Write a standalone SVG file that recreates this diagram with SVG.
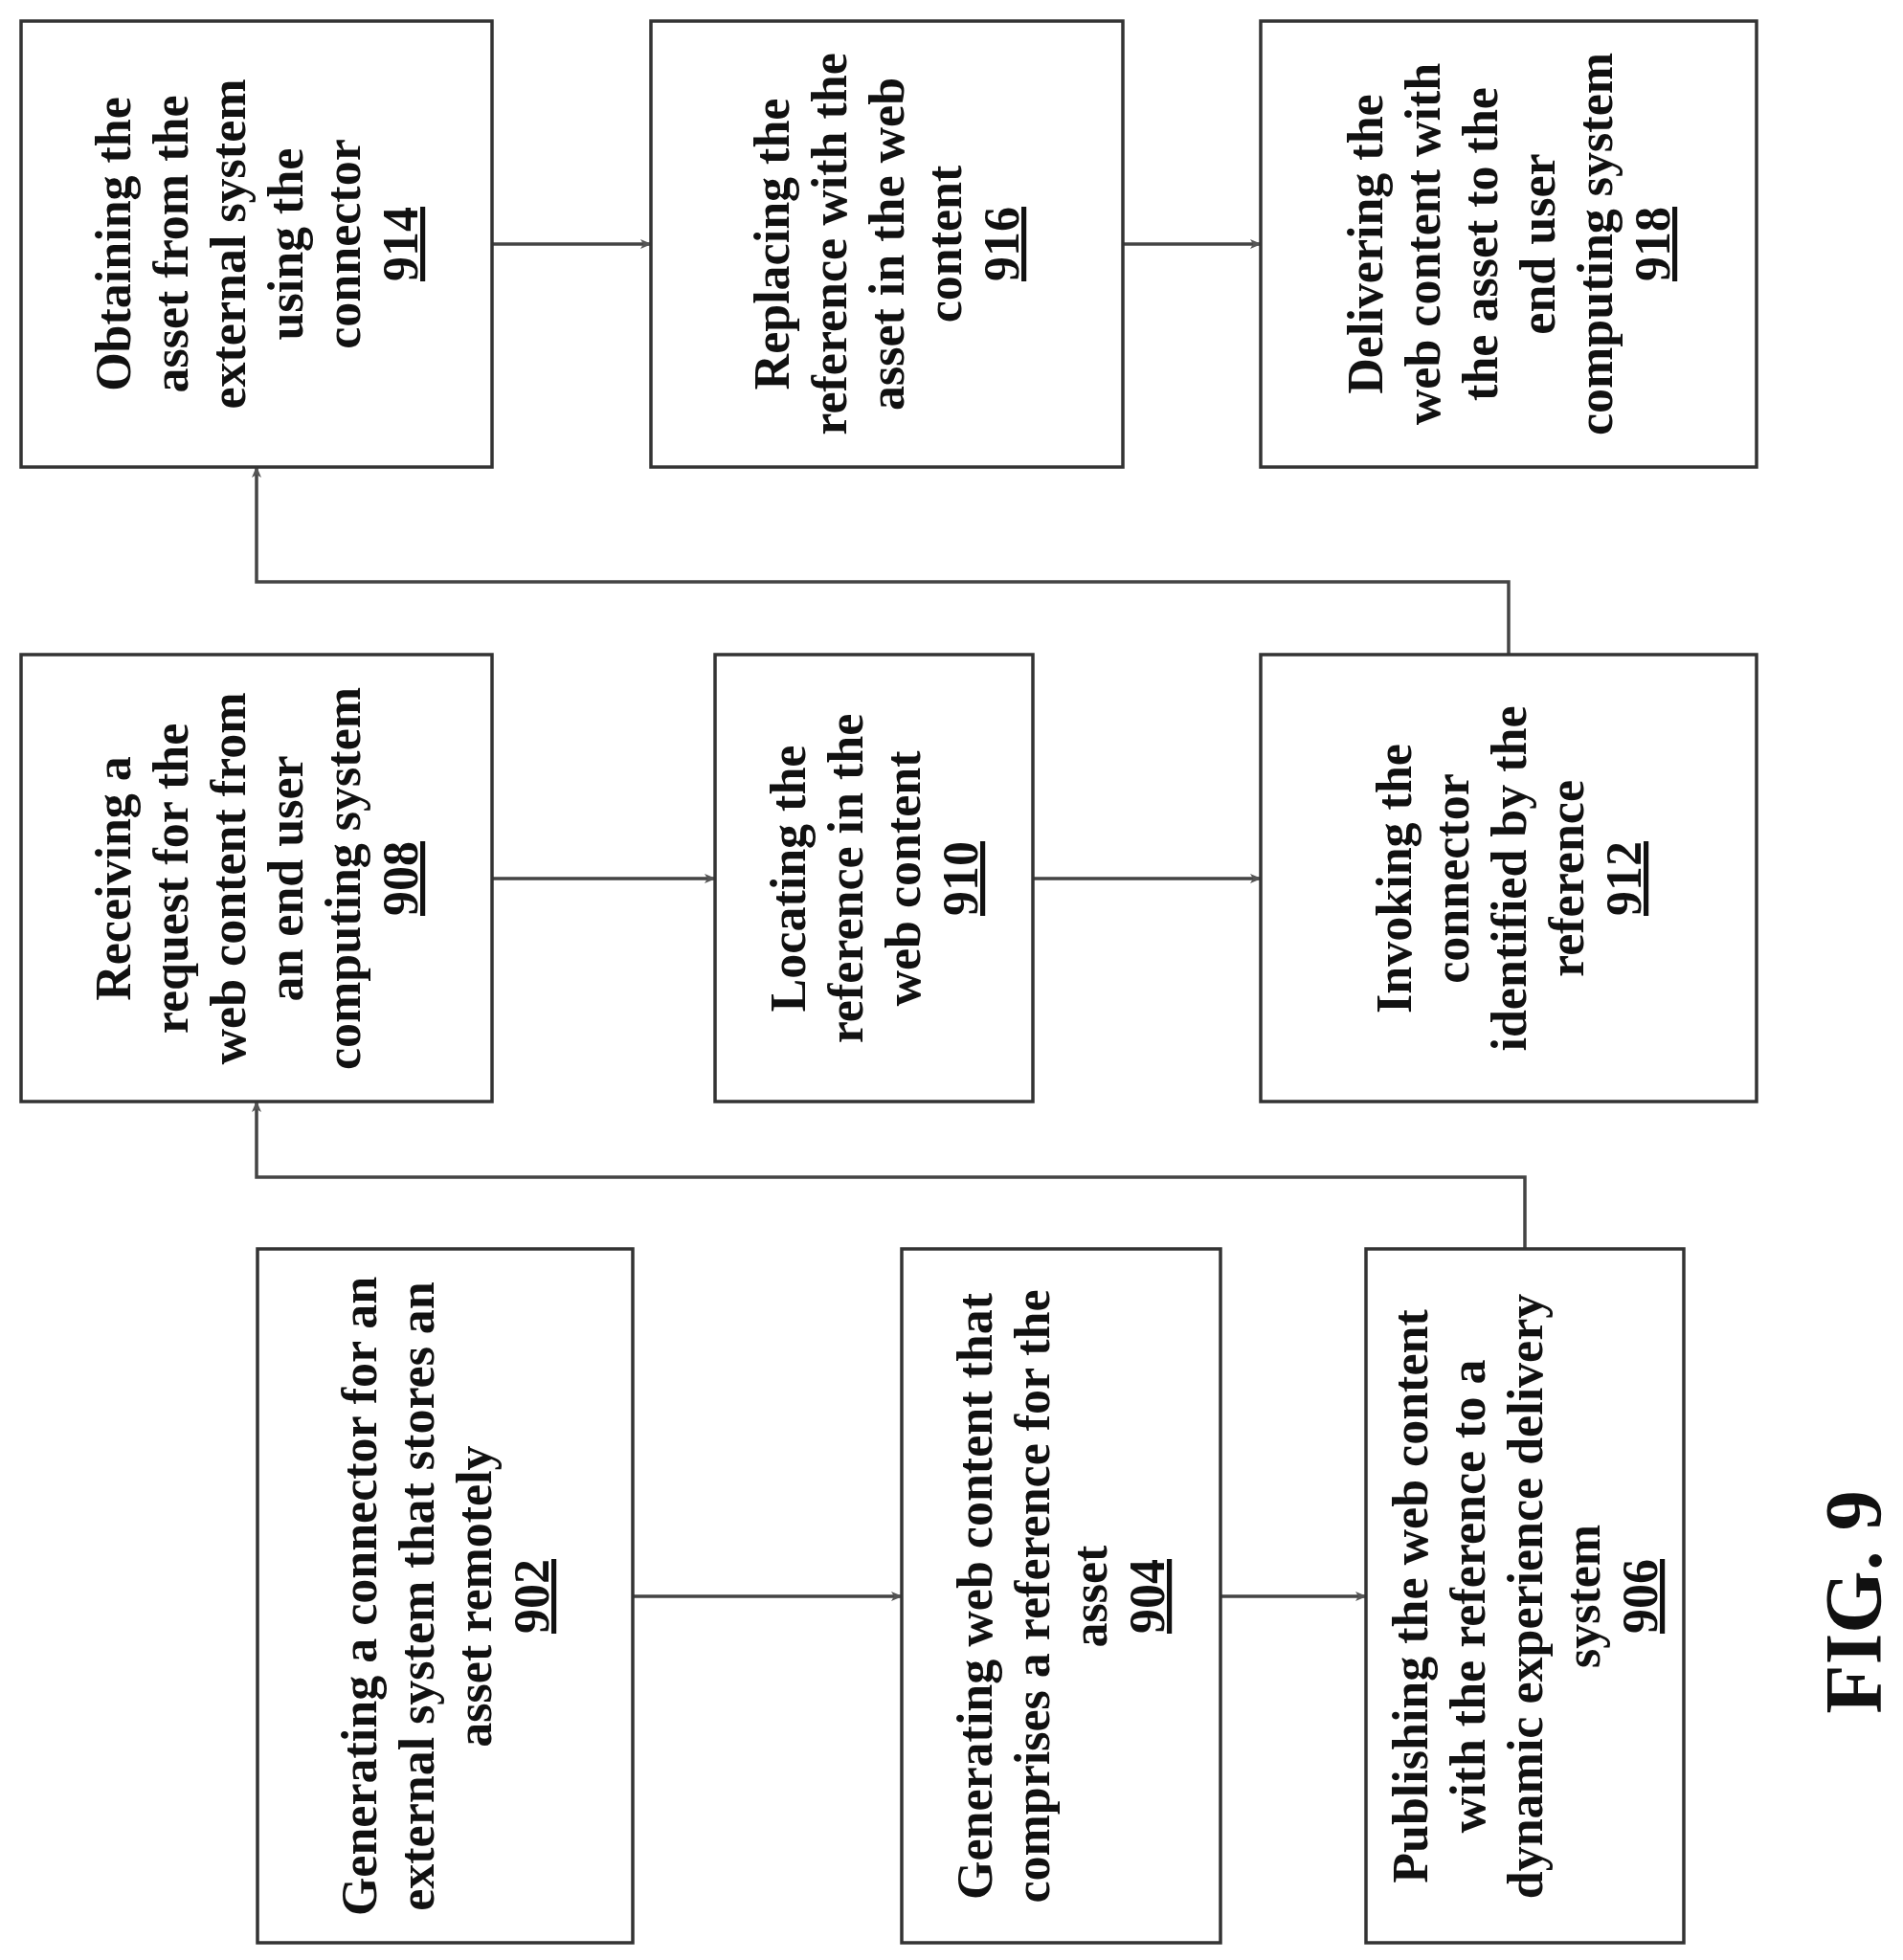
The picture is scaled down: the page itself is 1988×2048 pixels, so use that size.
<svg xmlns="http://www.w3.org/2000/svg" width="1988" height="2048" viewBox="0 0 1988 2048">
<style>
rect{fill:#fff;stroke:#333;stroke-width:3.5}
text{font-family:"Liberation Serif",serif;font-weight:bold;font-size:52px;fill:#111;text-anchor:middle}
.n{text-decoration:underline}
.c{fill:none;stroke:#444;stroke-width:3.5}
</style>
<defs><marker id="a" markerWidth="12" markerHeight="10" refX="11" refY="5" orient="auto" markerUnits="userSpaceOnUse" viewBox="0 0 12 10"><path d="M0,0L12,5L0,10L3,5z" fill="#555"/></marker></defs>
<rect x="0" y="0" width="1988" height="2048" style="stroke:none"/>
<g id="connectors">
<path class="c" d="M514,255H680" marker-end="url(#a)"/>
<path class="c" d="M1173,255H1317" marker-end="url(#a)"/>
<path class="c" d="M514,918H747" marker-end="url(#a)"/>
<path class="c" d="M1079,918H1317" marker-end="url(#a)"/>
<path class="c" d="M661,1668H942" marker-end="url(#a)"/>
<path class="c" d="M1275,1668H1427" marker-end="url(#a)"/>
<path class="c" d="M1576,684V608H268V488" marker-end="url(#a)"/>
<path class="c" d="M1593,1305V1230H268V1151" marker-end="url(#a)"/>
</g>
<g id="n914"><rect x="22" y="22" width="492" height="466"/>
<text transform="translate(268,255) rotate(-90)"><tspan x="0" y="-132">Obtaining the</tspan><tspan x="0" y="-72">asset from the</tspan><tspan x="0" y="-12">external system</tspan><tspan x="0" y="48">using the</tspan><tspan x="0" y="108">connector</tspan><tspan x="0" y="168" class="n">914</tspan></text></g>
<g id="n916"><rect x="680" y="22" width="493" height="466"/>
<text transform="translate(926,255) rotate(-90)"><tspan x="0" y="-102">Replacing the</tspan><tspan x="0" y="-42">reference with the</tspan><tspan x="0" y="18">asset in the web</tspan><tspan x="0" y="78">content</tspan><tspan x="0" y="138" class="n">916</tspan></text></g>
<g id="n918"><rect x="1317" y="22" width="518" height="466"/>
<text transform="translate(1576,255) rotate(-90)"><tspan x="0" y="-132">Delivering the</tspan><tspan x="0" y="-72">web content with</tspan><tspan x="0" y="-12">the asset to the</tspan><tspan x="0" y="48">end user</tspan><tspan x="0" y="108">computing system</tspan><tspan x="0" y="168" class="n">918</tspan></text></g>
<g id="n908"><rect x="22" y="684" width="492" height="467"/>
<text transform="translate(268,918) rotate(-90)"><tspan x="0" y="-132">Receiving a</tspan><tspan x="0" y="-72">request for the</tspan><tspan x="0" y="-12">web content from</tspan><tspan x="0" y="48">an end user</tspan><tspan x="0" y="108">computing system</tspan><tspan x="0" y="168" class="n">908</tspan></text></g>
<g id="n910"><rect x="747" y="684" width="332" height="467"/>
<text transform="translate(913,918) rotate(-90)"><tspan x="0" y="-72">Locating the</tspan><tspan x="0" y="-12">reference in the</tspan><tspan x="0" y="48">web content</tspan><tspan x="0" y="108" class="n">910</tspan></text></g>
<g id="n912"><rect x="1317" y="684" width="518" height="467"/>
<text transform="translate(1576,918) rotate(-90)"><tspan x="0" y="-102">Invoking the</tspan><tspan x="0" y="-42">connector</tspan><tspan x="0" y="18">identified by the</tspan><tspan x="0" y="78">reference</tspan><tspan x="0" y="138" class="n">912</tspan></text></g>
<g id="n902"><rect x="269" y="1305" width="392" height="725"/>
<text transform="translate(465,1668) rotate(-90)"><tspan x="0" y="-72">Generating a connector for an</tspan><tspan x="0" y="-12">external system that stores an</tspan><tspan x="0" y="48">asset remotely</tspan><tspan x="0" y="108" class="n">902</tspan></text></g>
<g id="n904"><rect x="942" y="1305" width="333" height="725"/>
<text transform="translate(1108,1668) rotate(-90)"><tspan x="0" y="-72">Generating web content that</tspan><tspan x="0" y="-12">comprises a reference for the</tspan><tspan x="0" y="48">asset</tspan><tspan x="0" y="108" class="n">904</tspan></text></g>
<g id="n906"><rect x="1427" y="1305" width="332" height="725"/>
<text transform="translate(1593,1668) rotate(-90)"><tspan x="0" y="-102">Publishing the web content</tspan><tspan x="0" y="-42">with the reference to a</tspan><tspan x="0" y="18">dynamic experience delivery</tspan><tspan x="0" y="78">system</tspan><tspan x="0" y="138" class="n">906</tspan></text></g>
<text transform="translate(1965,1674) rotate(-90)" style="font-size:84px">FIG. 9</text>
</svg>
